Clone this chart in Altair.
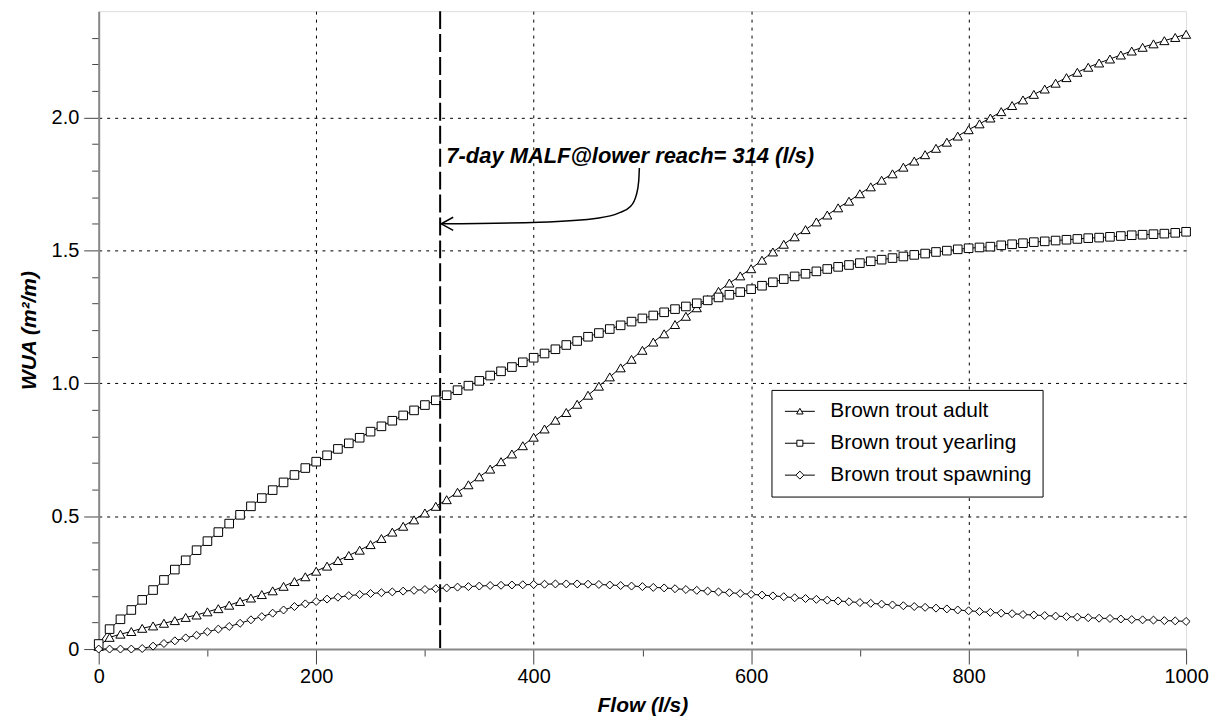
import altair as alt
import pandas as pd

# ---------------- data ----------------
flow = list(range(0, 1001, 10))

adult = [
    0.010, 0.044, 0.056, 0.066, 0.078, 0.087, 0.097, 0.107, 0.119, 0.128,
    0.140, 0.152, 0.165, 0.179, 0.192, 0.205, 0.219, 0.236, 0.254, 0.272,
    0.293, 0.312, 0.333, 0.352, 0.372, 0.393, 0.416, 0.440, 0.462, 0.486,
    0.512, 0.537, 0.562, 0.590, 0.618, 0.648, 0.677, 0.705, 0.734, 0.765,
    0.797, 0.828, 0.861, 0.890, 0.921, 0.955, 0.989, 1.024, 1.058, 1.090,
    1.124, 1.155, 1.186, 1.221, 1.252, 1.284, 1.315, 1.346, 1.377, 1.404,
    1.431, 1.463, 1.494, 1.523, 1.551, 1.578, 1.607, 1.633, 1.660, 1.685,
    1.713, 1.739, 1.764, 1.788, 1.813, 1.836, 1.860, 1.884, 1.907, 1.930,
    1.954, 1.976, 1.998, 2.022, 2.045, 2.066, 2.087, 2.107, 2.129, 2.150,
    2.170, 2.189, 2.205, 2.220, 2.235, 2.250, 2.264, 2.277, 2.289, 2.301,
    2.313,
]

yearling = [
    0.019, 0.075, 0.112, 0.147, 0.185, 0.222, 0.260, 0.299, 0.334, 0.372,
    0.406, 0.440, 0.472, 0.505, 0.537, 0.568, 0.598, 0.627, 0.655, 0.681,
    0.705, 0.729, 0.753, 0.774, 0.795, 0.818, 0.838, 0.859, 0.879, 0.898,
    0.918, 0.936, 0.955, 0.974, 0.991, 1.009, 1.029, 1.045, 1.061, 1.079,
    1.096, 1.112, 1.128, 1.144, 1.159, 1.175, 1.189, 1.204, 1.218, 1.232,
    1.244, 1.255, 1.267, 1.279, 1.289, 1.301, 1.312, 1.323, 1.333, 1.343,
    1.354, 1.367, 1.380, 1.392, 1.402, 1.412, 1.421, 1.430, 1.438, 1.445,
    1.452, 1.459, 1.465, 1.471, 1.477, 1.483, 1.488, 1.494, 1.499, 1.504,
    1.508, 1.511, 1.514, 1.519, 1.523, 1.527, 1.531, 1.534, 1.537, 1.540,
    1.543, 1.546, 1.548, 1.551, 1.554, 1.557, 1.559, 1.561, 1.563, 1.566,
    1.570,
]

spawning = [
    0.000, 0.000, 0.000, 0.000, 0.002, 0.011, 0.021, 0.031, 0.042, 0.052,
    0.065, 0.075, 0.085, 0.097, 0.110, 0.122, 0.135, 0.147, 0.160, 0.170,
    0.179, 0.188, 0.195, 0.201, 0.205, 0.209, 0.212, 0.215, 0.218, 0.221,
    0.224, 0.227, 0.230, 0.233, 0.235, 0.237, 0.239, 0.240, 0.241, 0.242,
    0.243, 0.244, 0.245, 0.245, 0.245, 0.244, 0.243, 0.241, 0.239, 0.237,
    0.235, 0.232, 0.230, 0.227, 0.224, 0.221, 0.218, 0.215, 0.212, 0.209,
    0.206, 0.203, 0.200, 0.197, 0.193, 0.190, 0.187, 0.184, 0.181, 0.178,
    0.175, 0.172, 0.169, 0.166, 0.163, 0.160, 0.157, 0.154, 0.151, 0.147,
    0.144, 0.141, 0.138, 0.135, 0.133, 0.130, 0.128, 0.126, 0.124, 0.122,
    0.120, 0.118, 0.116, 0.115, 0.113, 0.111, 0.110, 0.109, 0.107, 0.106,
    0.104,
]

series_names = ["Brown trout adult", "Brown trout yearling", "Brown trout spawning"]
marker_shapes = ["triangle-up", "square", "diamond"]
marker_sizes = [85, 64, 90]
legend_shapes = [
    "M -1 0 L 0.655 0 M 1.095 0 L 2.75 0 M 0.875 -0.38 L 0.465 0.33 L 1.285 0.33 Z",
    "M -1 0 L 0.5 0 M 1.25 0 L 2.75 0 M 0.5 -0.375 L 1.25 -0.375 L 1.25 0.375 L 0.5 0.375 Z",
    "M -1 0 L 0.375 0 M 1.375 0 L 2.75 0 M 0.375 0 L 0.875 -0.5 L 1.375 0 L 0.875 0.5 Z",
]

x_ticks = [0, 100, 200, 300, 400, 500, 600, 700, 800, 900, 1000]
y_ticks = [0.0, 0.1, 0.2, 0.3, 0.4, 0.5, 0.6, 0.7, 0.8, 0.9, 1.0, 1.1,
           1.2, 1.3, 1.4, 1.5, 1.6, 1.7, 1.8, 1.9, 2.0, 2.1, 2.2, 2.3]

malf_flow = [314]
note_text = ["7-day MALF@lower reach= 314 (l/s)"]
note_x = [319.7]
note_y = [1.854]
arrow_x = [315, 405, 460, 478, 489, 494.5, 496.6, 497.2]
arrow_y = [1.600, 1.606, 1.622, 1.640, 1.665, 1.710, 1.760, 1.810]
arrow_tip_x = [315]
arrow_tip_y = [1.600]

# ---------------- tables ----------------
rows = []
for name, vals in zip(series_names, [adult, yearling, spawning]):
    for f, v in zip(flow, vals):
        rows.append({"flow": f, "wua": v, "series": name})
df = pd.DataFrame(rows)

rule_df = pd.DataFrame({"flow": malf_flow})
note_df = pd.DataFrame({"flow": note_x, "wua": note_y, "label": note_text})
arrow_df = pd.DataFrame({"flow": arrow_x, "wua": arrow_y})
tip_df = pd.DataFrame({"flow": arrow_tip_x, "wua": arrow_tip_y})
legend_df = pd.DataFrame({"series": series_names, "flow": [-100] * 3, "wua": [1.0] * 3})

FONT = "Liberation Sans"

xscale = alt.Scale(domain=[0, 1000], nice=False, zero=False)
yscale = alt.Scale(domain=[0, 2.4], nice=False, zero=False)

x_axis = alt.Axis(
    values=x_ticks,
    tickCount=50,
    format="d",
    labelExpr="datum.value % 200 == 0 ? datum.label : ''",
    labelOverlap=False,
    labelFlush=False,
    labelFontSize=20,
    labelColor="black",
    labelFont=FONT,
    labelPadding=3,
    tickSize={"condition": {"test": "datum.value % 200 == 0", "value": 15}, "value": 7},
    tickColor="#444",
    tickWidth=1,
    domainColor="#888",
    domainWidth=2,
    grid=True,
    gridColor="black",
    gridDash=[3, 5],
    gridWidth=1,
    gridOpacity={"condition": {"test": "datum.value % 200 == 0 && datum.value > 0 && datum.value < 1000", "value": 1}, "value": 0},
    title="Flow (l/s)",
    titleFont=FONT,
    titleFontSize=21,
    titleFontWeight="bold",
    titleFontStyle="italic",
    titleColor="black",
    titlePadding=8,
)

major_y = "abs(datum.value*2 - round(datum.value*2)) < 0.000001"
y_axis = alt.Axis(
    values=y_ticks,
    tickCount=50,
    labelExpr="datum.value == 0 ? '0' : (abs(datum.value*2 - round(datum.value*2)) < 0.000001 ? format(datum.value, '.1f') : '')",
    labelOverlap=False,
    labelFlush=False,
    labelFontSize=20,
    labelColor="black",
    labelFont=FONT,
    labelPadding=5,
    tickSize={"condition": {"test": major_y, "value": 15}, "value": 7},
    tickColor="#444",
    tickWidth=1,
    domainColor="#888",
    domainWidth=2,
    grid=True,
    gridColor="black",
    gridDash=[3, 5],
    gridWidth=1,
    gridOpacity={"condition": {"test": major_y + " && datum.value > 0", "value": 1}, "value": 0},
    title="WUA (m²/m)",
    titleFont=FONT,
    titleFontSize=21,
    titleFontWeight="bold",
    titleFontStyle="italic",
    titleColor="black",
    titlePadding=12,
)

X = alt.X("flow:Q", scale=xscale, axis=x_axis)
Y = alt.Y("wua:Q", scale=yscale, axis=y_axis)
Xp = alt.X("flow:Q", scale=xscale)
Yp = alt.Y("wua:Q", scale=yscale)

lines = alt.Chart(df).mark_line(color="black", strokeWidth=1).encode(
    x=X, y=Y, detail="series:N"
)

points = alt.Chart(df).mark_point(
    filled=True, fill="white", stroke="black", strokeWidth=1, opacity=1
).encode(
    x=Xp, y=Yp,
    shape=alt.Shape("series:N", scale=alt.Scale(domain=series_names, range=marker_shapes), legend=None),
    size=alt.Size("series:N", scale=alt.Scale(domain=series_names, range=marker_sizes), legend=None),
)

rule = alt.Chart(rule_df).mark_rule(color="black", strokeWidth=2, strokeDash=[18, 5]).encode(
    x=Xp
)

arrow = alt.Chart(arrow_df).mark_line(color="black", strokeWidth=1.5, interpolate="monotone").encode(
    x=Xp, y=Yp
)

tip = alt.Chart(tip_df).mark_point(
    shape="M 1 -0.55 L 0 0 L 1 0.55", size=576, filled=False, stroke="black",
    strokeWidth=1.5, opacity=1
).encode(x=Xp, y=Yp)

note = alt.Chart(note_df).mark_text(
    align="left", baseline="middle", font=FONT, fontSize=22, fontWeight="bold",
    fontStyle="italic", color="black"
).encode(x=Xp, y=Yp, text="label:N")

legend_layer = alt.Chart(legend_df).mark_point(
    clip=True, filled=False, color="black", strokeWidth=1, opacity=1
).encode(
    x=Xp, y=Yp,
    shape=alt.Shape(
        "series:N",
        scale=alt.Scale(domain=series_names, range=legend_shapes),
        legend=alt.Legend(
            title=None, orient="none", legendX=675, legendY=380, direction="vertical",
            strokeColor="black", fillColor="white", padding=11, cornerRadius=0,
            rowPadding=10, labelFontSize=21, labelFont=FONT, labelColor="black",
            labelOffset=27, labelLimit=400, symbolSize=256, symbolStrokeWidth=1,
            symbolFillColor="white", symbolStrokeColor="black", symbolOpacity=1,
        ),
    ),
)

chart = alt.layer(lines, points, rule, arrow, tip, note, legend_layer).resolve_scale(
    shape="independent", size="independent"
).properties(
    width=1091, height=640,
    padding={"left": 91, "top": 2, "right": 28, "bottom": 70},
    autosize=alt.AutoSizeParams(type="none"),
).configure_view(
    stroke="black", strokeWidth=1
).configure(
    font=FONT
)

chart.save("out.html", embed_options={"renderer": "svg", "actions": False})
